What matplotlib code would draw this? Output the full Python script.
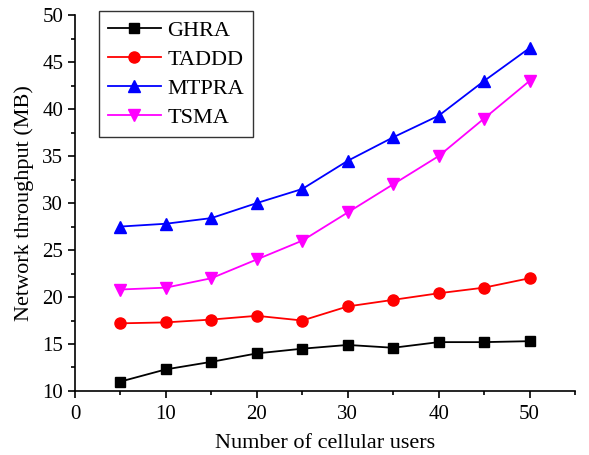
import matplotlib.pyplot as plt
from matplotlib.ticker import MultipleLocator

# number of cellular users
users = [5, 10, 15, 20, 25, 30, 35, 40, 45, 50]

ghra = [11.0, 12.3, 13.1, 14.0, 14.5, 14.9, 14.6, 15.2, 15.2, 15.3]
taddd = [17.2, 17.3, 17.6, 18.0, 17.5, 19.0, 19.7, 20.4, 21.0, 22.0]
mtpra = [27.5, 27.8, 28.4, 30.0, 31.5, 34.5, 37.0, 39.3, 43.0, 46.5]
tsma = [20.8, 21.0, 22.0, 24.0, 26.0, 29.0, 32.0, 35.0, 39.0, 43.0]

plt.rcParams['font.family'] = ['Liberation Serif', 'DejaVu Serif']
plt.rcParams['font.size'] = 15

fig = plt.figure(figsize=(5.89, 4.55), dpi=100)
ax = fig.add_axes([0.1273, 0.1407, 0.849, 0.826])

ax.plot(users, ghra, color='black', marker='s', markersize=7, lw=1.3, label='GHRA')
ax.plot(users, taddd, color='red', marker='o', markersize=8, lw=1.3, label='TADDD')
ax.plot(users, mtpra, color='blue', marker='^', markersize=8, lw=1.3, label='MTPRA')
ax.plot(users, tsma, color='magenta', marker='v', markersize=8, lw=1.3, label='TSMA')

ax.set_xlim(0, 55)
ax.set_ylim(10, 50)
ax.xaxis.set_major_locator(MultipleLocator(10))
ax.xaxis.set_minor_locator(MultipleLocator(5))
ax.yaxis.set_major_locator(MultipleLocator(5))
ax.yaxis.set_minor_locator(MultipleLocator(2.5))
ax.tick_params(which='major', direction='out', length=5, width=1.2, labelsize=15)
ax.tick_params(axis='x', which='major', pad=5)
ax.tick_params(which='minor', direction='out', length=3, width=1.2)

ax.spines['top'].set_visible(False)
ax.spines['right'].set_visible(False)
ax.spines['left'].set_linewidth(1.2)
ax.spines['bottom'].set_linewidth(1.2)

ax.set_xlabel('Number of cellular users', fontsize=16, labelpad=7)
ax.set_ylabel('Network throughput (MB)', fontsize=16, labelpad=6)

leg = ax.legend(loc='upper left', bbox_to_anchor=(0.048, 1.011), fancybox=False,
                edgecolor='black', handlelength=2.35, handletextpad=0.3,
                labelspacing=0.38, borderpad=0.42, borderaxespad=0, fontsize=16)
leg.get_frame().set_linewidth(1.0)

plt.savefig('out.png')
